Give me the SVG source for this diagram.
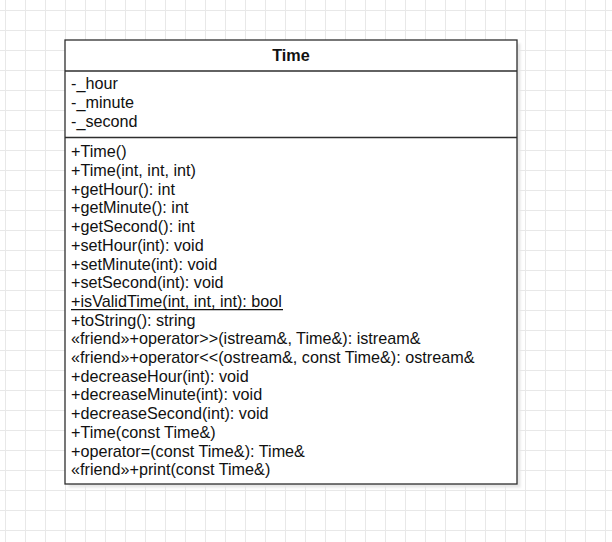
<svg xmlns="http://www.w3.org/2000/svg" width="612" height="542" viewBox="0 0 612 542">
<defs>
<pattern id="grid" x="5" y="10" width="20" height="20" patternUnits="userSpaceOnUse">
<path d="M0 0.5H20M0.5 0V20" fill="none" stroke="#e8e8e8" stroke-width="1"/>
</pattern>
<filter id="blur" x="-5%" y="-5%" width="110%" height="110%"><feGaussianBlur stdDeviation="1"/></filter>
</defs>
<style>
.t{font-family:"Liberation Sans",Arial,sans-serif;font-size:16.2px;fill:#111}
.b{font-weight:bold;text-anchor:middle}
.line{stroke:#2e2e2e;stroke-width:1.3}
</style>
<rect width="612" height="542" fill="#ffffff"/>
<rect x="-20" y="-20" width="652" height="582" fill="url(#grid)"/>
<g id="Time">
<rect x="68.5" y="43.5" width="452" height="444" fill="#e6e6e6" filter="url(#blur)"/>
<rect x="65" y="40" width="452" height="444" fill="#ffffff" class="line"/>
<line x1="65" y1="71" x2="517" y2="71" class="line"/>
<line x1="65" y1="137.5" x2="517" y2="137.5" class="line"/>
<text x="291" y="61" class="t b">Time</text>
<text class="t" x="71">
<tspan x="71" y="89.3">-_hour</tspan>
<tspan x="71" y="108">-_minute</tspan>
<tspan x="71" y="126.7">-_second</tspan>
</text>
<text class="t" x="71">
<tspan x="71" y="157.3">+Time()</tspan>
<tspan x="71" y="176">+Time(int, int, int)</tspan>
<tspan x="71" y="194.7">+getHour(): int</tspan>
<tspan x="71" y="213.4">+getMinute(): int</tspan>
<tspan x="71" y="232.1">+getSecond(): int</tspan>
<tspan x="71" y="250.8">+setHour(int): void</tspan>
<tspan x="71" y="269.5">+setMinute(int): void</tspan>
<tspan x="71" y="288.2">+setSecond(int): void</tspan>
<tspan x="71" y="306.9">+isValidTime(int, int, int): bool</tspan>
<tspan x="71" y="325.6">+toString(): string</tspan>
<tspan x="71" y="344.3">«friend»+operator&gt;&gt;(istream&amp;, Time&amp;): istream&amp;</tspan>
<tspan x="71" y="363">«friend»+operator&lt;&lt;(ostream&amp;, const Time&amp;): ostream&amp;</tspan>
<tspan x="71" y="381.7">+decreaseHour(int): void</tspan>
<tspan x="71" y="400.4">+decreaseMinute(int): void</tspan>
<tspan x="71" y="419.1">+decreaseSecond(int): void</tspan>
<tspan x="71" y="437.8">+Time(const Time&amp;)</tspan>
<tspan x="71" y="456.5">+operator=(const Time&amp;): Time&amp;</tspan>
<tspan x="71" y="475.2">«friend»+print(const Time&amp;)</tspan>
</text>
<line x1="71" y1="309.6" x2="283" y2="309.6" stroke="#111" stroke-width="1.1"/>
</g>
<g id="connectors"/>
</svg>
